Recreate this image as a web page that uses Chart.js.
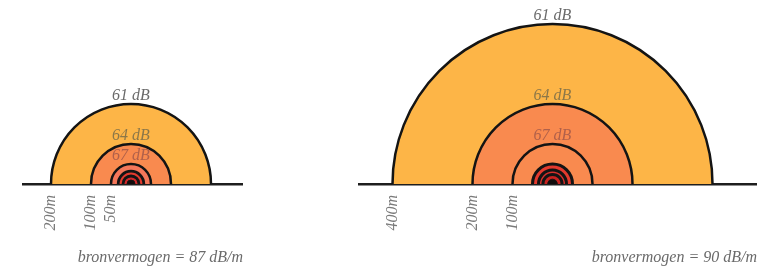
<!DOCTYPE html>
<html>
<head>
<meta charset="utf-8">
<script src="https://cdn.jsdelivr.net/npm/chart.js@4/dist/chart.umd.min.js"></script>
<style>
  html, body { margin: 0; padding: 0; background: #fff; }
  body { width: 771px; height: 267px; position: relative; overflow: hidden; }
  .box { position: absolute; top: 0; height: 267px; }
</style>
</head>
<body>
<div class="box" style="left:22px;width:221px;"><canvas id="c1"></canvas></div>
<div class="box" style="left:358px;width:399px;"><canvas id="c2"></canvas></div>
<script>
// ---- data (distances in metres) ----
const leftRings   = [200, 100, 50, 32, 20, 10];
const rightRings  = [400, 200, 100, 50, 35, 24, 12];
const leftLevels  = ['61 dB', '64 dB', '67 dB'];
const leftLevelAt = [200, 100, 50];
const rightLevels = ['61 dB', '64 dB', '67 dB'];
const rightLevelAt= [400, 200, 100];
const leftTicks   = [200, 100, 50];
const rightTicks  = [400, 200, 100];
const leftPower   = 'bronvermogen = 87 dB/m';
const rightPower  = 'bronvermogen = 90 dB/m';

// ---- styles ----
const leftFill  = ['#FDB547', '#F98A4F', '#F4775A', '#E23A2E', '#D0282A', '#120c0c'];
const rightFill = ['#FDB547', '#F98A4F', '#F98A4F', '#E43A2E', '#D8302C', '#C8221F', '#120c0c'];
const leftBorderW  = [2.5, 2.5, 2.5, 2.8, 2.8, 1];
const rightBorderW = [2.5, 2.5, 2.5, 3, 3, 3, 1];
const levelColors = ['#6a6a6a', '#8c7748', '#b0604a'];
const FONT = '"Liberation Serif", "DejaVu Serif", serif';

const levelPlugin = {
  id: 'levels',
  afterDraw(chart) {
    const o = chart.options.plugins.levels;
    const xs = chart.scales.x;
    const ctx = chart.ctx;
    const cx = xs.getPixelForValue(0);
    ctx.save();
    ctx.font = 'italic 16px ' + FONT;
    ctx.textAlign = 'center';
    ctx.textBaseline = 'alphabetic';
    o.labels.forEach((t, i) => {
      const r = Math.abs(xs.getPixelForValue(o.at[i]) - cx);
      ctx.fillStyle = levelColors[i];
      ctx.fillText(t, cx, chart.chartArea.bottom - r - 4);
    });
    ctx.restore();
  }
};

function makeChart(id, rings, fills, bw, ticks, power, levels, levelAt, xmin, xmax) {
  return new Chart(document.getElementById(id), {
    type: 'scatter',
    data: {
      datasets: [{
        data: rings.map(() => ({ x: 0, y: 0 })),
        pointRadius: (c) => {
          const xs = c.chart.scales.x;
          if (!xs || c.dataIndex === undefined) return 0;
          const r = Math.abs(xs.getPixelForValue(rings[c.dataIndex]) - xs.getPixelForValue(0));
          return isFinite(r) ? r : 0;
        },
        pointHoverRadius: (c) => 0,
        pointBackgroundColor: fills,
        pointBorderColor: '#141414',
        pointBorderWidth: bw,
        showLine: false,
        clip: { left: false, right: false, top: false, bottom: 0 }
      }]
    },
    options: {
      responsive: true,
      maintainAspectRatio: false,
      animation: false,
      events: [],
      layout: { padding: 0, autoPadding: false },
      plugins: {
        legend: { display: false },
        tooltip: { enabled: false },
        levels: { labels: levels, at: levelAt }
      },
      scales: {
        x: {
          type: 'linear',
          min: xmin, max: xmax,
          z: 1,
          grid: { display: false, drawTicks: false },
          border: { display: true, color: '#1e1e1e', width: 2.5 },
          afterBuildTicks: (s) => { s.ticks = ticks.map(v => ({ value: -v })); },
          afterFit: (s) => { s.height = 83; },
          ticks: {
            minRotation: 90, maxRotation: 90,
            padding: 11,
            color: '#7a7a7a',
            font: { family: FONT, size: 16, style: 'italic' },
            callback: (v) => Math.abs(v) + 'm'
          },
          title: {
            display: true,
            text: power,
            align: 'end',
            color: '#6a6a6a',
            font: { family: FONT, size: 16, style: 'italic', lineHeight: 1.0 },
            padding: { top: 0, bottom: 1 }
          }
        },
        y: { display: false, min: 0, max: 1 }
      }
    },
    plugins: [levelPlugin]
  });
}

makeChart('c1', leftRings, leftFill, leftBorderW, leftTicks, leftPower, leftLevels, leftLevelAt, -272.5, 280);
makeChart('c2', rightRings, rightFill, rightBorderW, rightTicks, rightPower, rightLevels, rightLevelAt, -486.25, 511.25);
</script>
</body>
</html>
